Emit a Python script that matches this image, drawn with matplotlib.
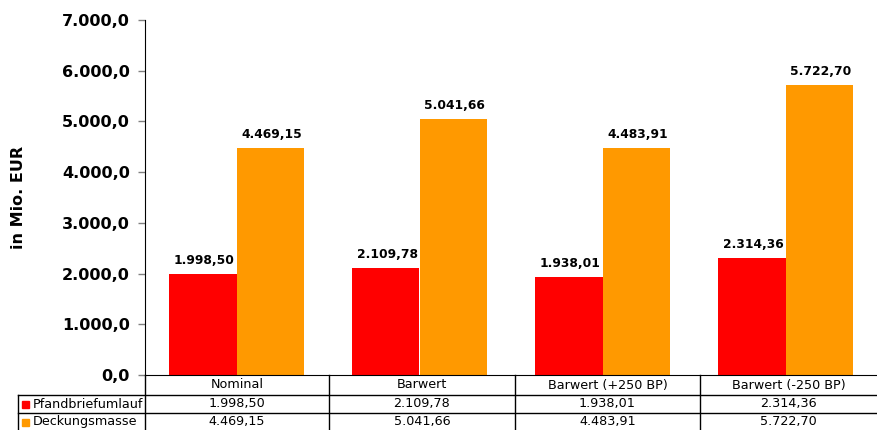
import numpy as np
import matplotlib.pyplot as plt
from matplotlib.patches import Rectangle

categories = ["Nominal", "Barwert", "Barwert (+250 BP)", "Barwert (-250 BP)"]
pfandbrief = [1998.50, 2109.78, 1938.01, 2314.36]
deckung = [4469.15, 5041.66, 4483.91, 5722.70]
series_names = ["Pfandbriefumlauf", "Deckungsmasse"]
colors = ["#FF0000", "#FF9900"]


def de_fmt(v, nd):
    s = f"{v:,.{nd}f}"
    return s.replace(",", "X").replace(".", ",").replace("X", ".")


W, H = 877, 430


def fx(px):
    return px / W


def fy(py):
    return 1 - py / H


fig = plt.figure(figsize=(W / 100, H / 100), dpi=100)
ax_l, ax_r, ax_t, ax_b = 145, 877, 20, 375
ax = fig.add_axes([ax_l / W, 1 - ax_b / H, (ax_r - ax_l) / W, (ax_b - ax_t) / H])

x = np.arange(len(categories))
bw = 0.37
b1 = ax.bar(x - bw / 2, pfandbrief, bw, color=colors[0], linewidth=0)
b2 = ax.bar(x + bw / 2, deckung, bw, color=colors[1], linewidth=0)
for bars, vals in ((b1, pfandbrief), (b2, deckung)):
    for rect, v in zip(bars, vals):
        ax.annotate(de_fmt(v, 2), (rect.get_x() + rect.get_width() / 2, v),
                    xytext=(1, 5), textcoords="offset points", ha="center",
                    va="bottom", fontsize=8.8, fontweight="bold")

ax.set_xlim(-0.5, len(categories) - 0.5)
ax.set_ylim(0, 7000)
ax.set_yticks(np.arange(0, 7001, 1000))
ax.set_yticklabels([de_fmt(v, 1) for v in np.arange(0, 7001, 1000)],
                   fontsize=11.5, fontweight="bold")
ax.tick_params(axis="y", length=5, width=1, color="#808080", pad=6)
ax.set_xticks([])
for s in ("top", "right"):
    ax.spines[s].set_visible(False)
ax.spines["left"].set_color("black")
ax.spines["bottom"].set_color("black")
ax.set_ylabel("in Mio. EUR", fontsize=11.5, fontweight="bold", va="center")
ax.yaxis.set_label_coords((19 - ax_l) / (ax_r - ax_l), 0.5)

# data table below the chart
col_edges = [145, 329, 515, 700, 877]
row_edges = [375, 395, 413, 431]
lw = 1.0
for cx in col_edges[:-1]:
    fig.add_artist(plt.Line2D([fx(cx), fx(cx)], [fy(375), fy(431)], color="black", lw=lw))
fig.add_artist(plt.Line2D([fx(18), fx(18)], [fy(395), fy(431)], color="black", lw=lw))
for ry in row_edges[1:3]:
    fig.add_artist(plt.Line2D([fx(18), fx(877)], [fy(ry), fy(ry)], color="black", lw=lw))

for i, cat in enumerate(categories):
    cxm = (col_edges[i] + col_edges[i + 1]) / 2
    fig.text(fx(cxm), fy(385), cat, ha="center", va="center", fontsize=9.2)
    fig.text(fx(cxm), fy(404), de_fmt(pfandbrief[i], 2), ha="center", va="center", fontsize=9.2)
    fig.text(fx(cxm), fy(422), de_fmt(deckung[i], 2), ha="center", va="center", fontsize=9.2)

for j, (name, c) in enumerate(zip(series_names, colors)):
    ym = (row_edges[j + 1] + row_edges[j + 2]) / 2
    fig.add_artist(Rectangle((fx(22), fy(ym + 3.5)), 7 / W, 7 / H, color=c,
                             transform=fig.transFigure))
    fig.text(fx(33), fy(ym), name, ha="left", va="center", fontsize=9.2)

fig.savefig("out.png", dpi=100)
